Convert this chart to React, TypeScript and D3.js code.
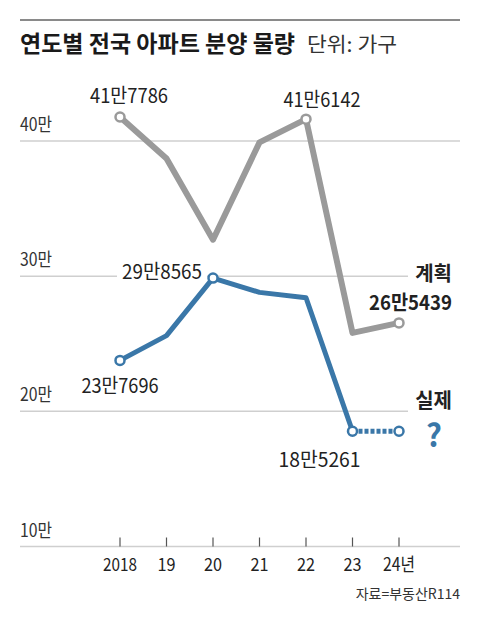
import React from "react";
import * as d3 from "d3";

const years = [2018, 2019, 2020, 2021, 2022, 2023, 2024];
const yearLabels = ["2018", "19", "20", "21", "22", "23", "24년"];
const planned = [417786, 387000, 327000, 399000, 416142, 258000, 265439];
const actual = [237696, 256000, 298565, 288000, 284000, 185261];
const actualTailYears = [2023, 2024];
const actualTail = [185261, 185261];
const yTicks = [100000, 200000, 300000, 400000];
const yTickLabels = ["10만", "20만", "30만", "40만"];
const plannedMarked = [0, 4, 6];
const actualMarked = [0, 2, 5];
const fmt = (v: number) => `${Math.floor(v / 10000)}만${String(v % 10000).padStart(4, "0")}`;

const W = 480;
const H = 621;
const GRAY = "#9a9a9a";
const BLUE = "#3a77a8";
const TEXT = "#222";
const FONT = "'Noto Sans CJK KR', 'Noto Sans', sans-serif";

export default function App() {
  const x = d3.scaleLinear().domain([2018, 2024]).range([120, 399]);
  const y = d3.scaleLinear().domain([100000, 400000]).range([546.5, 141]);

  const line = d3
    .line<[number, number]>()
    .x((d) => x(d[0]))
    .y((d) => y(d[1]));

  const plannedPts: [number, number][] = years.map((yr, i) => [yr, planned[i]]);
  const actualPts: [number, number][] = actual.map((v, i) => [years[i], v]);
  const tailPts: [number, number][] = actualTailYears.map((yr, i) => [yr, actualTail[i]]);

  const valueLabels: { v: number; px: number; py: number; dx: number; dy: number; anchor: string; bold?: boolean; w: number }[] = [
    { v: planned[0], px: x(years[0]), py: y(planned[0]), dx: 9, dy: -14, anchor: "middle", w: 78 },
    { v: planned[4], px: x(years[4]), py: y(planned[4]), dx: 16, dy: -12, anchor: "middle", w: 77 },
    { v: actual[2], px: x(years[2]), py: y(actual[2]), dx: -11, dy: 1, anchor: "end", w: 80 },
    { v: actual[0], px: x(years[0]), py: y(actual[0]), dx: 0, dy: 33, anchor: "middle", w: 77 },
    { v: actual[5], px: x(years[5]), py: y(actual[5]), dx: -33, dy: 36, anchor: "middle", w: 82 },
    { v: planned[6], px: x(years[6]), py: y(planned[6]), dx: 53, dy: -13, anchor: "end", bold: true, w: 83 },
  ];

  const rectFor = (cx: number, base: number, anchor: string, w: number, h: number, pad: number) => {
    let left = cx;
    if (anchor === "middle") left = cx - w / 2;
    else if (anchor === "end") left = cx - w;
    return { x: left - pad, y: base - h, width: w + pad * 2, height: h + 5 };
  };

  return (
    <svg width={W} height={H} style={{ display: "block", position: "absolute", left: 0, top: 0, background: "#fff" }} fontFamily={FONT}>
      <rect width={W} height={H} fill="#fff" />
      <line x1={20} x2={460} y1={20} y2={20} stroke="#8a8a8a" strokeWidth={2} />
      <text x={20} y={52} fontSize={23} fontWeight={700} fill="#1a1a1a" textLength={275} lengthAdjust="spacingAndGlyphs">
        연도별 전국 아파트 분양 물량
      </text>
      <text x={307} y={52} fontSize={20} fill="#333" textLength={90} lengthAdjust="spacingAndGlyphs">
        단위: 가구
      </text>

      {yTicks.map((t, i) => (
        <g key={t}>
          <line x1={20} x2={460} y1={y(t)} y2={y(t)} stroke="#cfcfcf" strokeWidth={1.5} />
          <text x={20} y={y(t) - 10} fontSize={18} fill="#333" textLength={32} lengthAdjust="spacingAndGlyphs">
            {yTickLabels[i]}
          </text>
        </g>
      ))}

      {years.map((yr, i) => (
        <g key={yr}>
          <line x1={x(yr)} x2={x(yr)} y1={y(100000) - 9} y2={y(100000)} stroke="#555" strokeWidth={1.2} />
          <text
            x={x(yr)}
            y={571}
            fontSize={18}
            fill="#222"
            textAnchor="middle"
            textLength={yearLabels[i].length === 4 ? 34 : yearLabels[i].length === 3 ? 32 : 18}
            lengthAdjust="spacingAndGlyphs"
          >
            {yearLabels[i]}
          </text>
        </g>
      ))}

      {valueLabels.map((l, i) => {
        const r = rectFor(l.px + l.dx, l.py + l.dy, l.anchor, l.w, 16, 5);
        return <rect key={"bg" + i} {...r} fill="#fff" />;
      })}
      <rect x={408} y={262} width={52} height={24} fill="#fff" />
      <rect x={408} y={391} width={52} height={24} fill="#fff" />

      <path d={line(plannedPts) || ""} fill="none" stroke={GRAY} strokeWidth={6} strokeLinejoin="round" />
      <path d={line(actualPts) || ""} fill="none" stroke={BLUE} strokeWidth={5} strokeLinejoin="round" />
      <path d={line(tailPts) || ""} fill="none" stroke={BLUE} strokeWidth={5} strokeDasharray="4 2" />

      {plannedMarked.map((i) => (
        <circle key={"pm" + i} cx={x(years[i])} cy={y(planned[i])} r={4.5} fill="#fff" stroke={GRAY} strokeWidth={2.5} />
      ))}
      {actualMarked.map((i) => (
        <circle key={"am" + i} cx={x(years[i])} cy={y(actual[i])} r={4.5} fill="#fff" stroke={BLUE} strokeWidth={2.5} />
      ))}
      <circle cx={x(tailPts[1][0])} cy={y(tailPts[1][1])} r={4.5} fill="#fff" stroke={BLUE} strokeWidth={2.5} />

      {valueLabels.map((l, i) => (
        <text
          key={"vl" + i}
          x={l.px + l.dx}
          y={l.py + l.dy}
          fontSize={20}
          fontWeight={l.bold ? 700 : 400}
          fill={TEXT}
          textAnchor={l.anchor as any}
          textLength={l.w}
          lengthAdjust="spacingAndGlyphs"
        >
          {fmt(l.v)}
        </text>
      ))}

      <text x={452} y={281} fontSize={20} fontWeight={700} fill={TEXT} textAnchor="end">
        계획
      </text>
      <text x={452} y={408} fontSize={20} fontWeight={700} fill={TEXT} textAnchor="end">
        실제
      </text>
      <text x={434} y={447} fontSize={31} fontWeight={700} fill={BLUE} textAnchor="middle">
        ?
      </text>

      <text x={460} y={599} fontSize={14} fill="#333" textAnchor="end">
        자료=부동산R114
      </text>
    </svg>
  );
}
